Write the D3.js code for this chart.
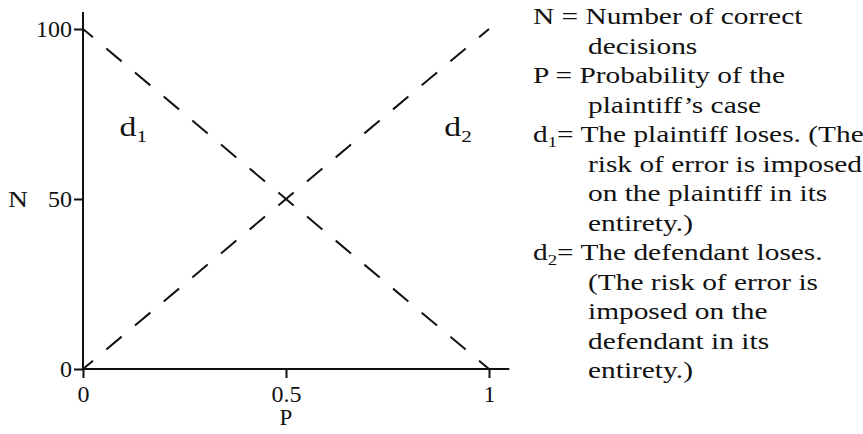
<!DOCTYPE html>
<html>
<head>
<meta charset="utf-8">
<script src="https://cdn.jsdelivr.net/npm/d3@7"></script>
<style>
body { margin: 0; background: #fff; }
text { font-family: "Liberation Serif", serif; fill: #111; }
</style>
</head>
<body>
<svg id="chart" width="863" height="434"></svg>
<script>
// data
var pValues = [0, 1];
var d1Values = [100, 0];   // plaintiff loses
var d2Values = [0, 100];   // defendant loses
var xTicks = [0, 0.5, 1];
var xTickLabels = ["0", "0.5", "1"];
var yTicks = [0, 50, 100];
var yTickLabels = ["0", "50", "100"];
var axisMax = {p: 1.05, n: 105};
var curveLabels = [
  {lead: "d", sub: "1", p: 0.09, n: 68.5},
  {lead: "d", sub: "2", p: 0.89, n: 68.5}
];
// legend: indent 0 = first line of an entry, 1 = continuation
var legendLines = [
  {indent: 0, lead: "N = Number of correct"},
  {indent: 1, lead: "decisions"},
  {indent: 0, lead: "P = Probability of the"},
  {indent: 1, lead: "plaintiff\u2019s case"},
  {indent: 0, lead: "d", sub: "1", rest: "= The plaintiff loses. (The"},
  {indent: 1, lead: "risk of error is imposed"},
  {indent: 1, lead: "on the plaintiff in its"},
  {indent: 1, lead: "entirety.)"},
  {indent: 0, lead: "d", sub: "2", rest: "= The defendant loses."},
  {indent: 1, lead: "(The risk of error is"},
  {indent: 1, lead: "imposed on the"},
  {indent: 1, lead: "defendant in its"},
  {indent: 1, lead: "entirety.)"}
];

var svg = d3.select("#chart");
var stretch = 1.25;

var x = d3.scaleLinear().domain([0, 1]).range([83, 489]);
var y = d3.scaleLinear().domain([0, 100]).range([369, 29]);

// axes (ticks only, axis lines drawn below)
var xAxis = svg.append("g")
    .attr("transform", "translate(0," + y(0) + ")")
    .call(d3.axisBottom(x).tickValues(xTicks).tickSize(9).tickPadding(7)
      .tickFormat(function(d, i) { return xTickLabels[i]; }));
var yAxis = svg.append("g")
    .attr("transform", "translate(" + x(0) + ",0)")
    .call(d3.axisLeft(y).tickValues(yTicks).tickSize(9).tickPadding(2)
      .tickFormat(function(d, i) { return yTickLabels[i]; }));

[xAxis, yAxis].forEach(function(a) {
  a.select(".domain").remove();
  a.selectAll("line").attr("stroke", "#111").attr("stroke-width", 2);
  a.selectAll("text").attr("font-family", "Liberation Serif").style("font-size", "24px").attr("fill", "#111");
});

svg.append("line")
    .attr("x1", x(0)).attr("x2", x(axisMax.p))
    .attr("y1", y(0)).attr("y2", y(0))
    .attr("stroke", "#111").attr("stroke-width", 2);
svg.append("line")
    .attr("x1", x(0)).attr("x2", x(0))
    .attr("y1", y(0) + 1).attr("y2", y(axisMax.n))
    .attr("stroke", "#111").attr("stroke-width", 2);

// axis titles
svg.append("text")
    .attr("dy", "0.32em")
    .style("font-size", "24px")
    .attr("transform", "translate(8," + y(50) + ") scale(1.15,1)")
    .text("N");
svg.append("text")
    .attr("x", x(0.5)).attr("y", 425)
    .attr("text-anchor", "middle")
    .style("font-size", "23px")
    .text("P");

// dashed lines
var line = d3.line()
    .x(function(d) { return x(d[0]); })
    .y(function(d) { return y(d[1]); });

[d1Values, d2Values].forEach(function(vals) {
  svg.append("path")
      .datum(d3.zip(pValues, vals))
      .attr("d", line)
      .attr("fill", "none")
      .attr("stroke", "#111")
      .attr("stroke-width", 2)
      .attr("stroke-dasharray", "20,17.4")
      .attr("stroke-dashoffset", 7);
});

// d1 / d2 labels
curveLabels.forEach(function(c) {
  var t = svg.append("text")
      .attr("transform", "translate(" + x(c.p) + "," + y(c.n) + ") scale(" + stretch + ",1)")
      .style("font-size", "27px");
  t.append("tspan").text(c.lead);
  t.append("tspan").attr("dy", 6).style("font-size", "17px").text(c.sub);
});

// legend text
legendLines.forEach(function(l, i) {
  var t = svg.append("text")
      .attr("transform", "translate(" + (l.indent ? 588 : 533) + "," + (24 + i * 29.5) + ") scale(" + stretch + ",1)")
      .style("font-size", "23.5px");
  t.append("tspan").text(l.lead);
  if (l.sub) {
    t.append("tspan").attr("dy", 5).style("font-size", "15px").text(l.sub);
    t.append("tspan").attr("dy", -5).text(l.rest);
  }
});
</script>
</body>
</html>
